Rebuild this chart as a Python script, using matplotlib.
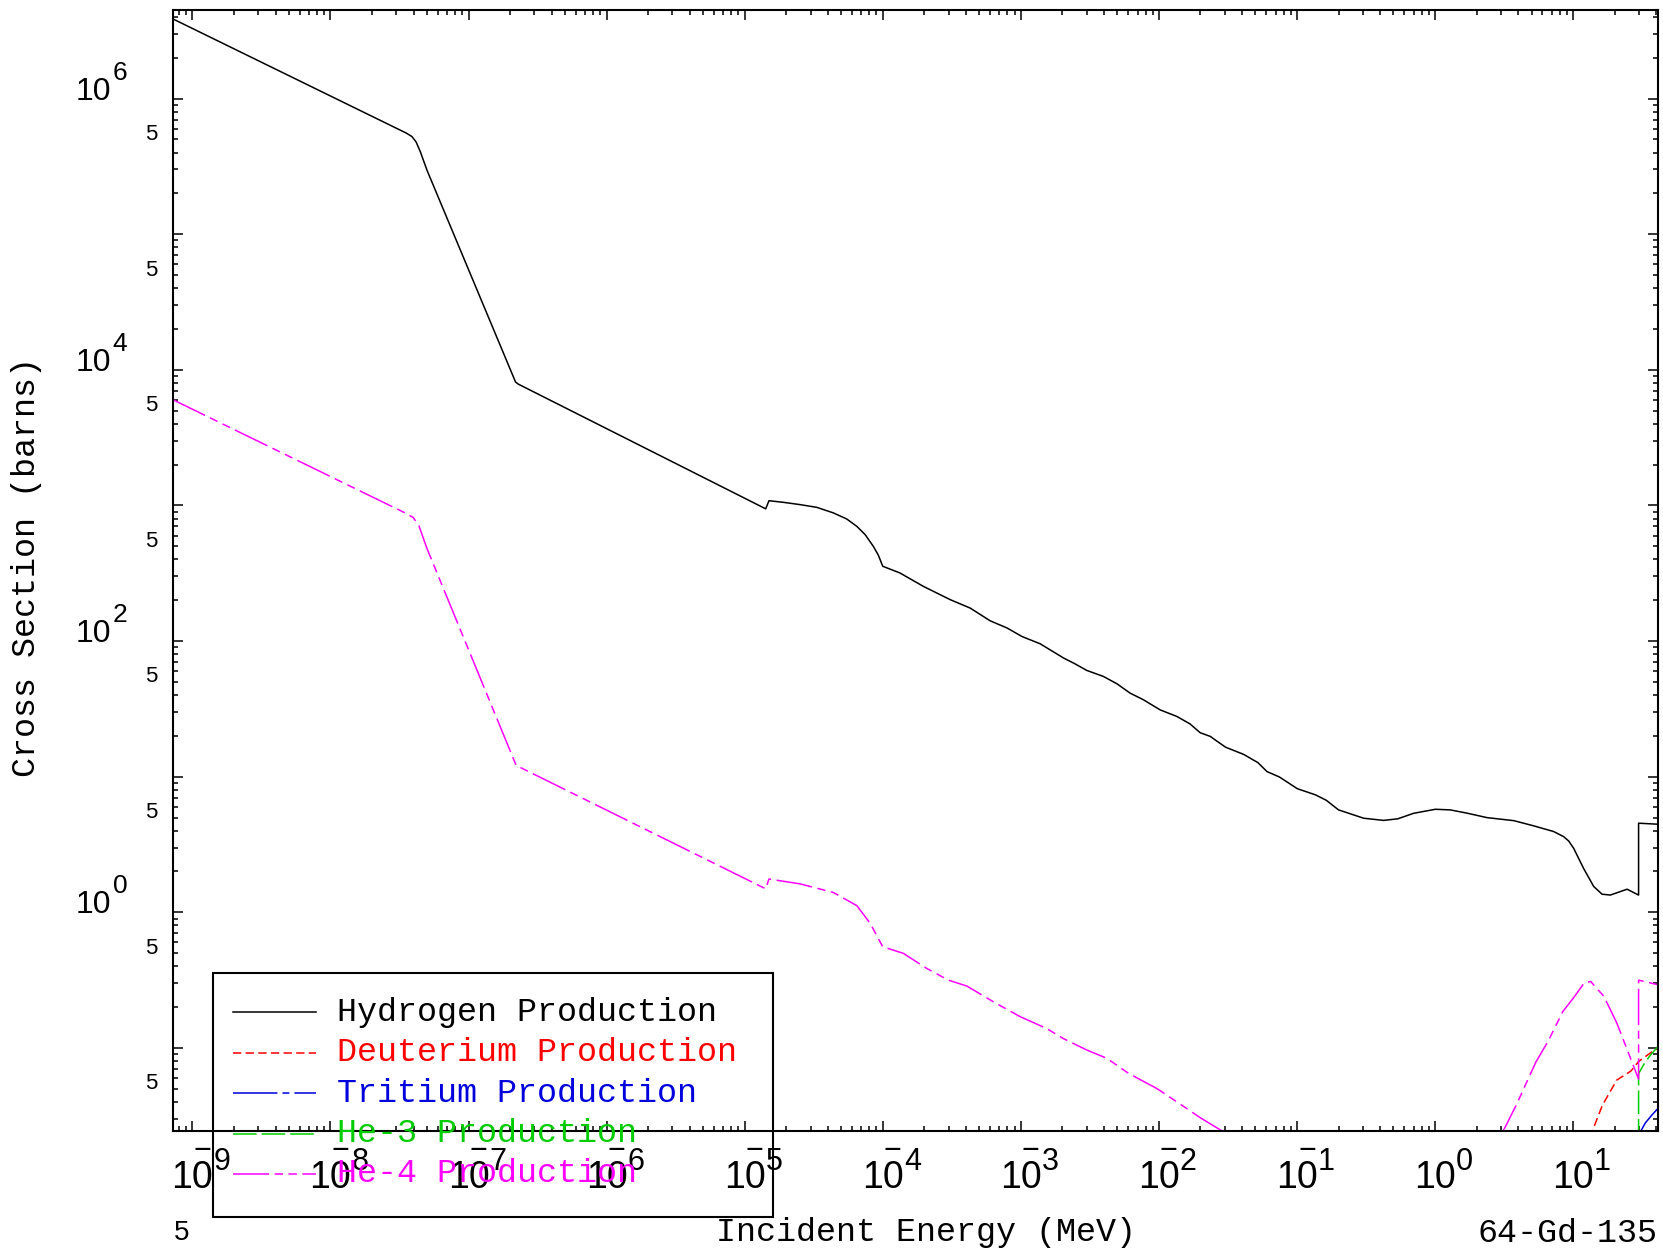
import numpy as np
import matplotlib
matplotlib.use("Agg")
import matplotlib.pyplot as plt
from matplotlib import transforms
from matplotlib.ticker import LogLocator, NullFormatter
from matplotlib.lines import Line2D
from matplotlib.patches import Rectangle

# ---- data (energy in MeV, cross section in barns) ----
h_energy = [7.18e-10, 3.55e-8, 3.89e-8, 4.17e-8, 4.47e-8, 5.01e-8, 2.19e-7, 2.29e-7,
            1.42e-5, 1.50e-5, 1.91e-5, 2.52e-5, 3.33e-5, 4.39e-5, 5.48e-5, 6.49e-5,
            7.45e-5, 8.55e-5, 9.29e-5, 1.00e-4, 1.33e-4,
            1.97e-4, 3.08e-4, 4.30e-4, 6.00e-4, 7.93e-4, 1.02e-3, 1.38e-3, 2.04e-3,
            2.47e-3, 3.01e-3, 3.97e-3, 4.97e-3, 6.19e-3, 7.73e-3, 1.02e-2, 1.35e-2,
            1.68e-2, 1.99e-2, 2.36e-2, 2.55e-2, 3.04e-2, 4.11e-2, 5.21e-2, 6.07e-2,
            7.46e-2, 0.1007, 0.136, 0.163, 0.200, 0.304, 0.424, 0.537, 0.700, 1.005,
            1.29, 1.71, 2.38, 3.72, 5.18, 7.23, 8.55, 9.3, 10.1, 11.9, 14.1, 16.2, 18.6,
            24.6, 29.8, 29.8, 41.4]
h_xs = [3.88e6, 5.56e5, 5.25e5, 4.79e5, 4.07e5, 2.95e5, 8.13e3, 7.85e3,
        944, 1084, 1054, 1014, 968, 881, 795, 701,
        610, 499, 430, 356, 318,
        253, 202, 175, 141, 125, 108, 95.5, 75.0,
        67.9, 60.7, 54.8, 48.4, 41.3, 36.9, 31.1, 27.8,
        24.5, 21.1, 19.8, 18.7, 16.5, 14.6, 12.7, 10.9,
        9.95, 8.15, 7.35, 6.70, 5.69, 4.94, 4.76, 4.89, 5.37, 5.75,
        5.69, 5.38, 4.99, 4.74, 4.34, 3.94, 3.61, 3.35, 2.96, 2.11, 1.55, 1.36, 1.34,
        1.48, 1.34, 4.54, 4.46]

d_energy = [13.2, 16.3, 20.7, 26.2, 29.8, 37.6, 41.4]
d_xs = [0.0218, 0.0378, 0.0579, 0.0675, 0.0794, 0.0942, 0.100]

t_energy = [29.8, 31.0, 33.3, 37.0, 41.4]
t_xs = [0.020, 0.0245, 0.0279, 0.0318, 0.0360]

he3_energy = [29.8, 29.8, 33.0, 36.5, 41.4]
he3_xs = [0.020, 0.0646, 0.0776, 0.0891, 0.103]

he4_energy = [7.18e-10, 3.55e-8, 3.98e-8, 4.37e-8, 5.01e-8, 2.22e-7, 2.29e-7,
              1.42e-5, 1.50e-5, 2.52e-5, 4.39e-5, 6.49e-5, 8.09e-5, 1.00e-4,
              1.41e-4, 2.08e-4, 2.99e-4, 4.06e-4, 6.32e-4, 9.89e-4, 1.54e-3,
              2.04e-3, 3.01e-3, 4.20e-3, 6.03e-3, 9.66e-3, 1.40e-2, 2.00e-2, 3.44e-2,
              np.nan,
              2.95, 3.87, 5.37, 6.62, 8.41, 10.1, 12.05, 13.4, 16.7, 20.7, 25.5,
              29.8, 29.8, 41.4]
he4_xs = [6040, 871, 813, 708, 479, 12.0, 11.9,
          1.49, 1.76, 1.62, 1.40, 1.12, 0.832, 0.557,
          0.498, 0.386, 0.316, 0.286, 0.219, 0.170, 0.139,
          0.117, 0.0964, 0.0838, 0.0649, 0.0502, 0.0390, 0.0305, 0.0218,
          np.nan,
          0.0218, 0.0378, 0.0785, 0.113, 0.185, 0.235, 0.302, 0.309, 0.240, 0.153, 0.0887,
          0.0589, 0.316, 0.292]

labels = ["Hydrogen Production", "Deuterium Production", "Tritium Production",
          "He-3 Production", "He-4 Production"]
colors = ["black", "#ff0000", "#0000dd", "#00cc00", "#ff00ff"]
x_decades = list(range(-9, 2))
y_big_decades = [0, 2, 4, 6]
y_five_decades = [-2, -1, 0, 1, 2, 3, 4, 5]

# ---- styling ----
plt.rcParams["lines.scale_dashes"] = False
W, H = 1663, 1254
mono = "Liberation Mono"
sans = "Liberation Sans"
dash_styles = [
    "-",
    (0, (6, 3.1)),
    (0, (32, 3.6, 5, 3.6)),
    (0, (17, 3.6)),
    (0, (26, 4, 6, 4, 6, 4)),
]
series = [(h_energy, h_xs), (d_energy, d_xs), (t_energy, t_xs),
          (he3_energy, he3_xs), (he4_energy, he4_xs)]


def fx(px):
    return px / W


def fy(py):
    return 1 - py / H


fig = plt.figure(figsize=(W / 100, H / 100), dpi=100)
ax = fig.add_axes([fx(172.7), fy(1131), fx(1658.3) - fx(172.7), fy(10) - fy(1131)])

for (e, s), col, ls in zip(series, colors, dash_styles):
    ax.plot(e, s, color=col, linestyle=ls, lw=1.1)

ax.set_xscale("log")
ax.set_yscale("log")
ax.set_xlim(7.2e-10, 41.4)
ax.set_ylim(0.0244, 4.5e6)

for axis in (ax.xaxis, ax.yaxis):
    axis.set_major_locator(LogLocator(base=10, numticks=40))
    axis.set_minor_locator(LogLocator(base=10, subs=np.arange(2, 10), numticks=400))
    axis.set_minor_formatter(NullFormatter())
ax.tick_params(which="both", direction="in", top=True, right=True,
               labelbottom=False, labelleft=False, width=1.1)
ax.tick_params(which="major", length=7.2)
ax.tick_params(which="minor", length=3.6)
for sp in ax.spines.values():
    sp.set_linewidth(1.5)

# ---- tick labels in the reference's own style ----
bx = transforms.blended_transform_factory(ax.transData, ax.transAxes)
by = transforms.blended_transform_factory(ax.transAxes, ax.transData)


def off(base, dx, dy):
    return transforms.offset_copy(base, fig=fig, x=dx, y=dy, units="dots")


for n in x_decades:
    ax.text(10.0 ** n, 0, "10", transform=off(bx, 0, -57), ha="center",
            va="baseline", fontsize=27, family=sans, clip_on=False)
    ax.text(10.0 ** n, 0, str(abs(n)), transform=off(bx, 21, -16), ha="left",
            va="top", fontsize=22, family=sans, clip_on=False)
    if n < 0:
        ax.text(10.0 ** n, 0, "\u2212", transform=off(bx, 10, -28), ha="center",
                va="baseline", fontsize=22, family=sans, clip_on=False)

for n in y_big_decades:
    ax.text(0, 10.0 ** n, "10", transform=off(by, -62, -1), ha="right",
            va="baseline", fontsize=23, family=sans, clip_on=False)
    ax.text(0, 10.0 ** n, str(n), transform=off(by, -60, 38), ha="left",
            va="top", fontsize=19, family=sans, clip_on=False)

for n in y_five_decades:
    ax.text(0, 5 * 10.0 ** n, "5", transform=off(by, -15, 5), ha="right",
            va="center", fontsize=16, family=sans, clip_on=False)

fig.text(fx(182), fy(1233), "5", ha="center", va="center", fontsize=20, family=sans)

# ---- axis titles ----
fig.text(fx(926), fy(1233), "Incident Energy (MeV)", ha="center", va="center",
         fontsize=24, family=mono)
fig.text(fx(1658), fy(1233), "64-Gd-135", ha="right", va="center",
         fontsize=24, family=mono)
fig.text(fx(27), fy(567), "Cross Section (barns)", ha="center", va="center",
         rotation=90, fontsize=24, family=mono)

# ---- legend box (transparent, overlapping the axis like the original) ----
fig.add_artist(Rectangle((fx(213), fy(1217)), fx(773) - fx(213), fy(973.5) - fy(1217),
                         transform=fig.transFigure, fill=False, lw=1.5, ec="black"))
for i, (lab, col, ls) in enumerate(zip(labels, colors, dash_styles)):
    yy = fy(1012 + 40.5 * i)
    fig.add_artist(Line2D([fx(233), fx(316)], [yy, yy], transform=fig.transFigure,
                          color=col, linestyle=ls, lw=1.1))
    fig.text(fx(337), yy, lab, color=col, ha="left", va="center",
             fontsize=24, family=mono)

fig.savefig("out.png", dpi=100, facecolor="white")
